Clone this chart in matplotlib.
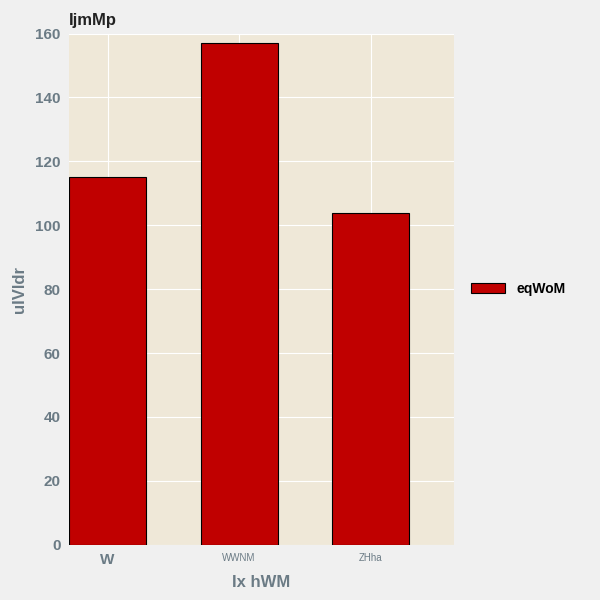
import matplotlib
matplotlib.use("Agg")
import matplotlib.pyplot as plt

categories = ["W", "WWNM", "ZHha"]
values = [115, 157, 104]
series_name = "eqWoM"

plt.rcParams['font.family'] = ['Liberation Sans', 'DejaVu Sans']
fig = plt.figure(figsize=(6, 6), dpi=100, facecolor="#F0F0F0")
ax = fig.add_axes([0.115, 0.092, 0.642, 0.852])
ax.set_facecolor("#EFE8D8")
x = list(range(len(categories)))
ax.bar(x, values, width=0.585, color="#C00000", edgecolor="black", linewidth=0.8, label=series_name, zorder=3)
ax.set_xlim(-0.293, 2.635)
ax.set_ylim(0, 160)
ax.set_yticks(range(0, 161, 20))
ax.set_xticks(x)
ax.set_xticklabels(categories)
tl = ax.get_xticklabels()
tl[0].set_fontsize(11); tl[0].set_fontweight("bold")
for t in tl[1:]:
    t.set_fontsize(7)
for t in tl:
    t.set_color("#6B7B85")
for t in ax.get_yticklabels():
    t.set_fontsize(11); t.set_fontweight("bold"); t.set_color("#6B7B85")
ax.tick_params(length=0, pad=6)
ax.grid(True, color="white", linewidth=0.8, zorder=0)
for s in ax.spines.values():
    s.set_visible(False)
ax.set_xlabel("Ix hWM", fontsize=12, fontweight="bold", color="#6B7B85", labelpad=6)
ax.set_ylabel("uIVldr", fontsize=12, fontweight="bold", color="#6B7B85", labelpad=6)
ax.set_title("IjmMp", loc="left", fontsize=12, fontweight="bold", color="#222222", pad=6)
ax.legend(loc="center left", bbox_to_anchor=(1.01, 0.5), frameon=False,
          prop={"weight": "bold", "size": 10}, handlelength=2.5)
fig.savefig("out.png", dpi=100, facecolor=fig.get_facecolor())
